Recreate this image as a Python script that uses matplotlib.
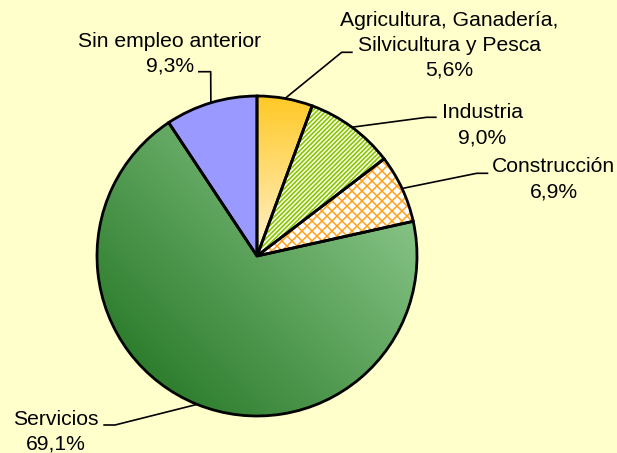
import numpy as np
import matplotlib.pyplot as plt
from matplotlib.colors import LinearSegmentedColormap
from matplotlib.collections import LineCollection

W, H = 617, 453

sectors = ['Agricultura, Ganadería,\nSilvicultura y Pesca', 'Industria', 'Construcción',
           'Servicios', 'Sin empleo anterior']
shares = [5.6, 9.0, 6.9, 69.1, 9.3]
fills = ['#FFCC33', 'white', 'white', '#5FA85F', '#9999FF']

# label layout in pixels from the top-left corner: text centre / last baseline,
# then the end of the leader near the text and its elbow
text_xy = [(449, 76), (482.5, 143), (553.5, 197), (55.5, 450), (170, 71.7)]
leader_near = [(352.7, 52.3), (436.7, 117.3), (488.3, 173.3), (103.3, 425), (198, 71.7)]
leader_elbow = [(341.7, 52.3), (426.7, 117.3), (476.7, 173.3), (115, 425), (210.7, 71.7)]

plt.rcParams['font.family'] = ['Liberation Sans', 'DejaVu Sans']

fig = plt.figure(figsize=(W / 100, H / 100), dpi=100, facecolor='#FFFFCC')
ax = fig.add_axes([0, 0, 1, 1])
cx, cy, r = 257, H - 256, 160

wedges, _ = ax.pie(shares, colors=fills, startangle=90, counterclock=False,
                   radius=r, center=(cx, cy), wedgeprops=dict(linewidth=0))

ext = (cx - r, cx + r, cy - r, cy + r)
X, Y = np.meshgrid(np.linspace(ext[0], ext[1], 400), np.linspace(ext[2], ext[3], 400))

# Agricultura: vertical gradient
agri_cmap = LinearSegmentedColormap.from_list('agri', ['#FFF2D0', '#FFC926'])
t = np.clip((Y - cy) / r, 0, 1)
wedges[0].set_facecolor('none')
im = ax.imshow(t, cmap=agri_cmap, extent=ext, origin='lower', zorder=0.5, aspect='auto')
im.set_clip_path(wedges[0])

# Servicios: diagonal gradient
serv_cmap = LinearSegmentedColormap.from_list('serv', ['#2E7E2E', '#8CC88C'])
t = np.clip(((X - cx) + (Y - cy)) / np.sqrt(2) / r * 0.5 + 0.5, 0, 1)
wedges[3].set_facecolor('none')
im = ax.imshow(t, cmap=serv_cmap, extent=ext, origin='lower', zorder=0.5, aspect='auto')
im.set_clip_path(wedges[3])

# Industria: narrow upward diagonal stripes
offs = np.arange(-2 * r, 2 * r, 4.5)
segs = [[(cx - r, cy - r + c), (cx + r, cy + r + c)] for c in offs]
lc = LineCollection(segs, colors='#8CC800', linewidths=1.25, zorder=2)
ax.add_collection(lc)
lc.set_clip_path(wedges[1])

# Construccion: orange diagonal crosshatch
offs = np.arange(-2 * r, 2 * r, 10)
segs = [[(cx - r, cy - r + c), (cx + r, cy + r + c)] for c in offs]
segs += [[(cx - r, cy + r + c), (cx + r, cy - r + c)] for c in offs]
lc = LineCollection(segs, colors='#FFA01A', linewidths=1.1, zorder=2)
ax.add_collection(lc)
lc.set_clip_path(wedges[2])

# outlines on top
outl, _ = ax.pie(shares, colors=['none'] * 5, startangle=90, counterclock=False,
                 radius=r, center=(cx, cy),
                 wedgeprops=dict(linewidth=2.0, edgecolor='black', zorder=3))

for w, name, v, (tx, ty), near, elb in zip(wedges, sectors, shares, text_xy,
                                           leader_near, leader_elbow):
    mid = np.deg2rad((w.theta1 + w.theta2) / 2)
    ex, ey = cx + r * np.cos(mid), cy + r * np.sin(mid)
    ax.plot([near[0], elb[0], ex], [H - near[1], H - elb[1], ey],
            color='black', lw=1.2, zorder=4, solid_capstyle='butt')
    pct = f'{v:.1f}'.replace('.', ',') + '%'
    ax.text(tx, H - ty, name + '\n' + pct, ha='center', va='baseline',
            multialignment='center', fontsize=15.2, linespacing=1.4)

ax.set_xlim(0, W)
ax.set_ylim(0, H)
ax.set_aspect('equal')
ax.axis('off')

fig.savefig('out.png', dpi=100, facecolor=fig.get_facecolor())
